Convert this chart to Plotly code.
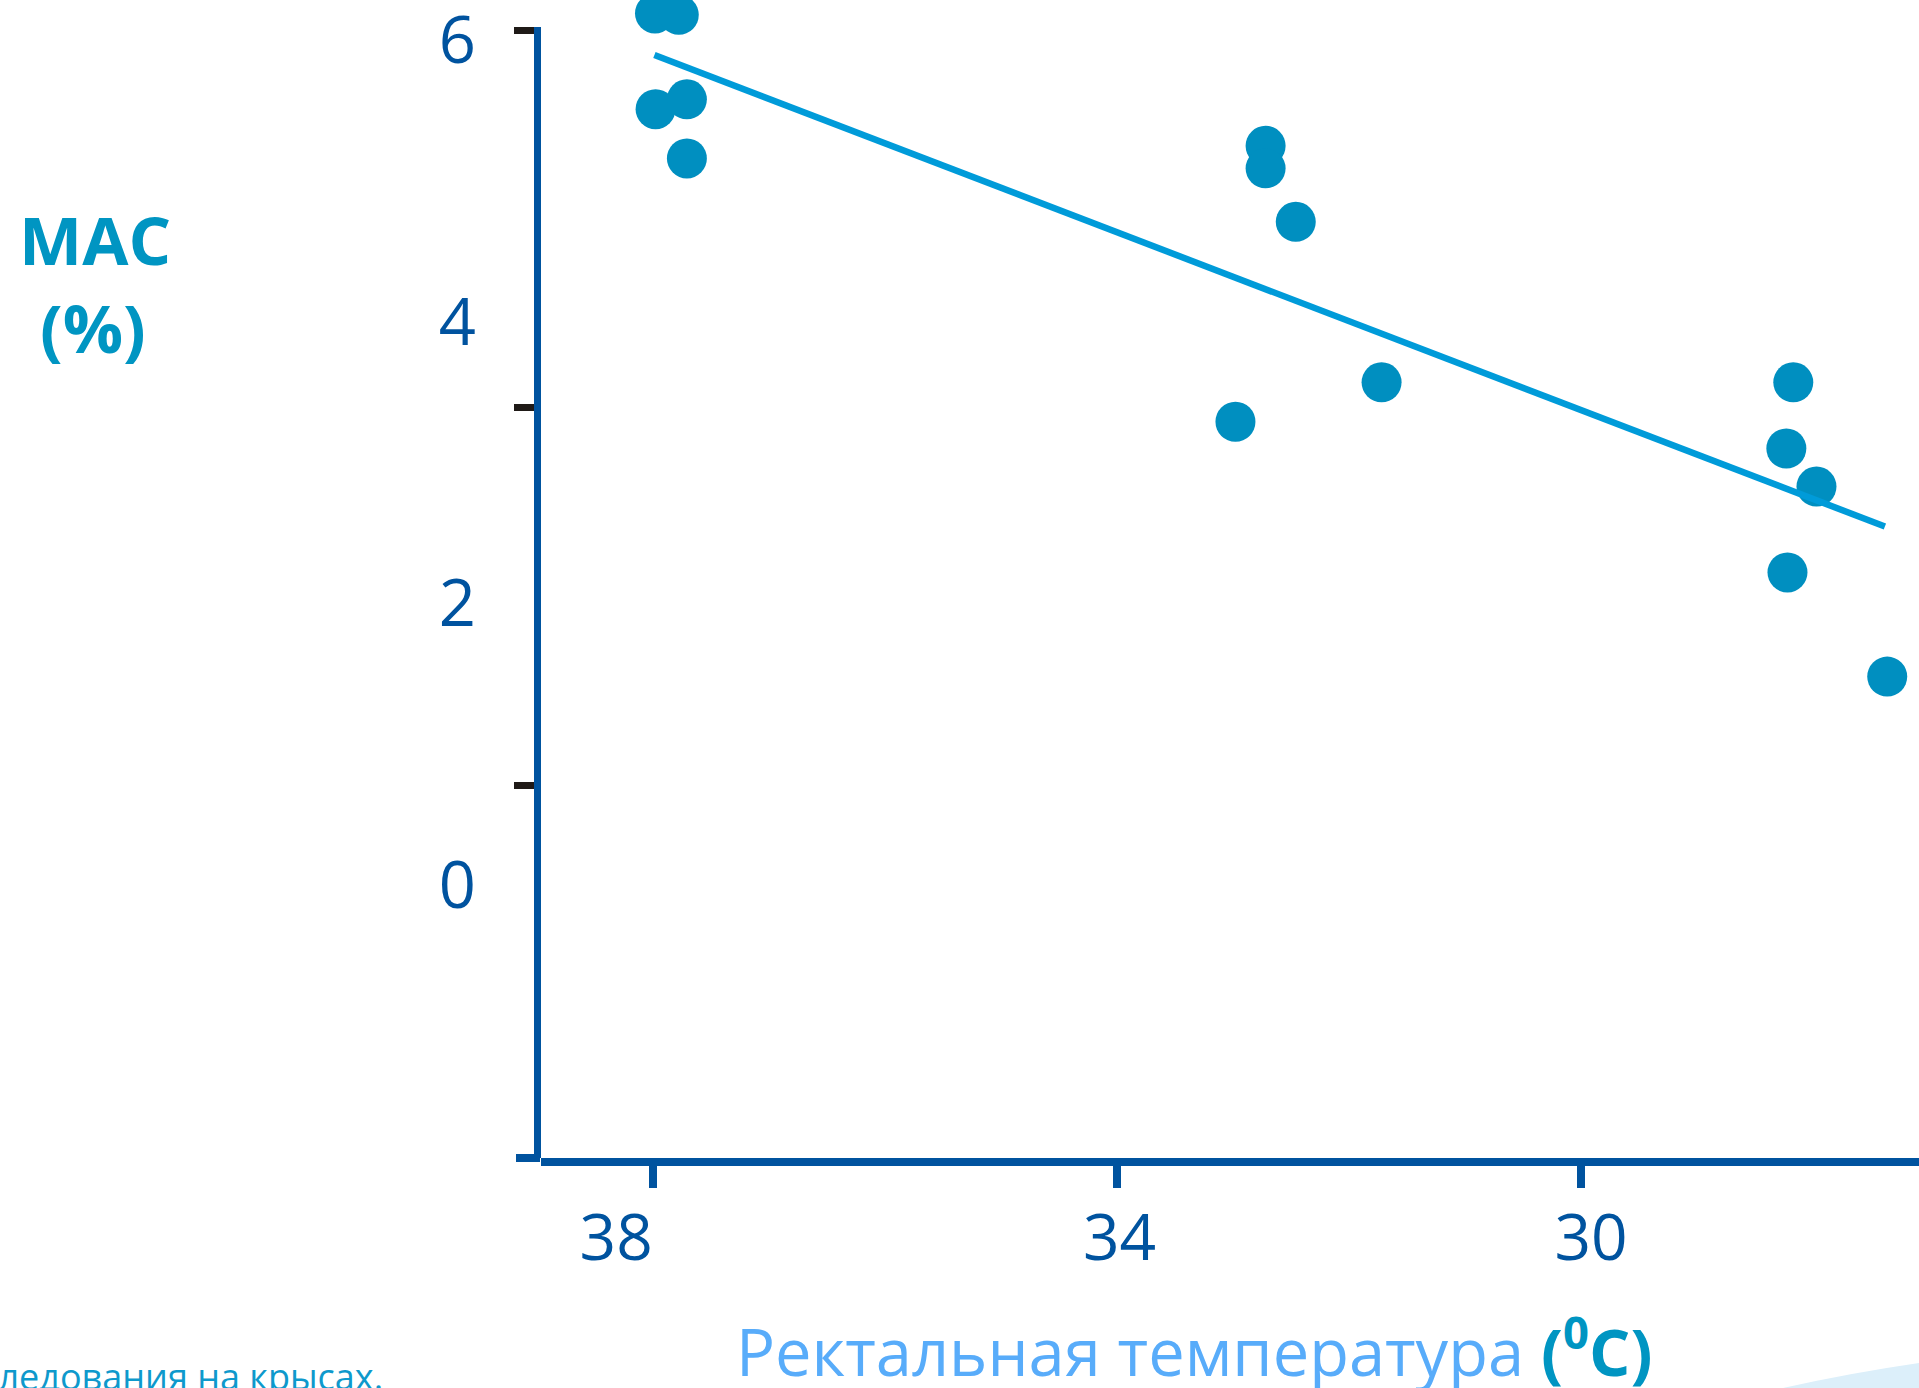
import plotly.graph_objects as go

# ---------------- data ----------------
temps = [37.985, 37.78, 37.98, 37.71, 37.71,
         32.72, 32.72, 32.46, 32.98, 31.72,
         28.17, 28.23, 27.97, 28.22, 27.36]
mac = [6.19, 6.18, 5.51, 5.58, 5.16,
       5.25, 5.09, 4.71, 3.29, 3.57,
       3.57, 3.10, 2.83, 2.22, 1.48]

fit_temps = [37.99, 27.38]
fit_mac = [5.895, 2.546]

x_tickvals = [38, 34, 30]
x_label_pos = [38.32, 33.98, 29.914]
x_labels = ["38", "34", "30"]

y_tick_marks = [6.07, 3.395, 0.71]
y_label_vals = [0, 2, 4, 6]
y_labels = ["0", "2", "4", "6"]

x_range = [38.968, 27.086]
y_range = [-1.939, 6.2855]       # full plot height (markers may reach the top)
y_line_range = [-1.939, 6.094]   # visible y axis line stops a little below the top

# ---------------- layout constants ----------------
W, H = 1919, 1388
ML, MR, MT, MB = 541, 0, 0, 230
PW = W - ML - MR
PH = H - MT - MB
LINE_TOP_PX = 27

def px_x(px):
    return (px - ML) / PW

def px_y(py):
    return (H - MB - py) / PH

AXIS_BLUE = "#00539F"
DOT = "#008FC0"
FIT = "#009BD9"
TEAL = "#0095C2"
LIGHT = "#58ACFA"
FONT = "Open Sans"

fig = go.Figure()

fig.add_trace(go.Scatter(
    x=temps, y=mac, mode="markers",
    marker=dict(size=40, color=DOT, line=dict(width=0)),
    cliponaxis=False, showlegend=False, hoverinfo="x+y",
))

fig.add_trace(go.Scatter(
    x=fit_temps, y=fit_mac, mode="lines",
    line=dict(color=FIT, width=6.5),
    xaxis="x2", yaxis="y",
    cliponaxis=False, showlegend=False, hoverinfo="skip",
))

# carriers for the decorative axes
fig.add_trace(go.Scatter(x=[None], y=[None], xaxis="x", yaxis="y2",
                         showlegend=False, hoverinfo="skip"))
fig.add_trace(go.Scatter(x=[None], y=[None], xaxis="x", yaxis="y3",
                         showlegend=False, hoverinfo="skip"))

line_domain_top = (H - MB - LINE_TOP_PX) / PH

fig.update_layout(
    template="none",
    width=W, height=H,
    margin=dict(l=ML, r=MR, t=MT, b=MB, pad=0),
    plot_bgcolor="rgba(0,0,0,0)", paper_bgcolor="white",
    font=dict(family=FONT),
    showlegend=False,
    xaxis=dict(
        range=x_range, showgrid=False, zeroline=False, automargin=False,
        showline=True, linecolor=AXIS_BLUE, linewidth=8,
        ticks="outside", tickvals=x_tickvals, tickcolor=AXIS_BLUE,
        tickwidth=8, ticklen=22, showticklabels=False,
    ),
    xaxis2=dict(
        range=x_range, overlaying="x", anchor="y", side="bottom",
        showgrid=False, zeroline=False, showline=False, ticks="", automargin=False,
        tickvals=x_label_pos, ticktext=x_labels,
        tickfont=dict(size=64, color=AXIS_BLUE, family=FONT),
        ticklabelstandoff=37, ticklabeloverflow="allow",
    ),
    yaxis=dict(
        range=y_range, showgrid=False, zeroline=False, automargin=False,
        showline=False, ticks="",
        tickvals=y_label_vals, ticktext=y_labels,
        tickfont=dict(size=65, color=AXIS_BLUE, family=FONT),
        ticklabelstandoff=64, ticklabeloverflow="allow",
    ),
    yaxis2=dict(
        range=y_line_range, domain=[0, line_domain_top], anchor="x",
        showgrid=False, zeroline=False, automargin=False,
        showline=True, linecolor=AXIS_BLUE, linewidth=7,
        ticks="outside", tickvals=y_tick_marks, tickcolor="#1F1A17",
        tickwidth=7, ticklen=20, showticklabels=False,
    ),
    yaxis3=dict(
        range=y_range, overlaying="y", anchor="x", side="left",
        showgrid=False, zeroline=False, showline=False, automargin=False,
        ticks="outside", tickvals=[y_range[0] + 0.001],
        tickcolor=AXIS_BLUE, tickwidth=8, ticklen=24, showticklabels=False,
    ),
)

annotations = [
    dict(text="<b>MAC</b>", x=px_x(95), y=px_y(239), xref="paper", yref="paper",
         xanchor="center", yanchor="middle", showarrow=False,
         font=dict(size=67, color=TEAL, family=FONT)),
    dict(text="<b>(%)</b>", x=px_x(93), y=px_y(327), xref="paper", yref="paper",
         xanchor="center", yanchor="middle", showarrow=False,
         font=dict(size=67, color=TEAL, family=FONT)),
    dict(text='Ректальная температура <b><span style="color:%s">(<sup>0</sup>C)</span></b>' % TEAL,
         x=px_x(1194), y=px_y(1347), xref="paper", yref="paper",
         xanchor="center", yanchor="middle", showarrow=False,
         font=dict(size=65, color=LIGHT, family=FONT)),
    dict(text="исследования на крысах.", x=px_x(385), y=px_y(1403),
         xref="paper", yref="paper", xanchor="right", yanchor="bottom",
         showarrow=False, font=dict(size=36, color="#0E99CC", family=FONT)),
]
fig.update_layout(annotations=annotations)

# decorative light swoosh in the bottom-right corner
p0 = (px_x(1783), px_y(1388))
pc = (px_x(1850), px_y(1373))
p1 = (px_x(1919), px_y(1363))
p2 = (px_x(1919), px_y(1388))
swoosh = "M %f,%f Q %f,%f %f,%f L %f,%f Z" % (p0[0], p0[1], pc[0], pc[1], p1[0], p1[1], p2[0], p2[1])
fig.add_shape(type="path", path=swoosh, xref="paper", yref="paper",
              fillcolor="#DCEFFA", line=dict(width=0), layer="below")

# the page's default 8px body margin would shift the whole figure
fig.write_html("out.html",
               config={"displayModeBar": False},
               post_script="document.body.style.margin='0px';document.body.style.overflow='hidden';")
